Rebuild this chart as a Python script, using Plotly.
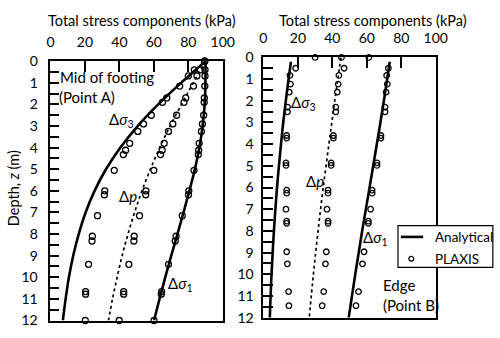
import plotly.graph_objects as go

# ---------------- data ----------------
# Mid of footing (Point A) - analytical
zA_an = [0, 0.25, 0.5, 1, 1.5, 2, 3, 4, 5, 6, 7, 8, 9, 10, 11, 12]
s1A_an = [90, 90, 90, 89.9, 89.8, 89.5, 88.3, 86.4, 83.8, 80.6, 77.2, 73.7, 70.1, 66.6, 63.3, 60.1]
s3A_an = [90, 86.4, 82.9, 75.8, 69.0, 62.5, 50.6, 40.5, 32.2, 25.6, 20.4, 16.4, 13.2, 10.7, 8.8, 7.2]
pA_an = [90, 88.2, 86.4, 82.9, 79.4, 76.0, 69.4, 63.4, 58.0, 53.1, 48.8, 45.0, 41.6, 38.7, 36.0, 33.7]

# Mid of footing (Point A) - PLAXIS
zA_px = [0, 0.4, 0.68, 1.15, 1.7, 1.9, 2.5, 2.9, 3.25, 3.8, 4.12, 4.32, 5.05, 6.0, 6.18, 7.15, 8.1, 8.32, 9.4, 10.66, 10.78, 12]
s3A_px = [89.5, 83.5, 80, 75, 67.5, 65, 58.5, 54, 50.7, 46, 43.6, 42.3, 37, 31.5, 31.3, 27.3, 24.3, 24.1, 22.1, 20.4, 20.4, 20.2]
pA_px = [89.5, 87, 85, 83, 78.5, 77.5, 73.2, 71, 68.5, 66, 64.8, 63.9, 60, 55.4, 55.3, 51.7, 48.6, 48.4, 45.5, 42.5, 42.5, 39.9]
s1A_px = [89.5, 89.7, 89.7, 89.6, 89.3, 89.2, 88.9, 88.2, 87.6, 86.3, 86, 85.8, 83.3, 80.3, 80.1, 76.5, 72.9, 72.4, 68.5, 64.5, 64.3, 60.1]

# Edge (Point B) - analytical
zB_an = [0.2, 1, 2, 3, 4, 6, 8, 10, 12]
s1B_an = [73.3, 71.8, 69.9, 67.9, 65.8, 61.6, 57.3, 53.3, 49.5]
s3B_an = [16.0, 14.6, 13.0, 11.5, 10.2, 7.9, 6.1, 4.7, 3.7]
zB_p_an = [0, 1, 2, 3, 4, 6, 8, 10, 12]
pB_an = [45, 43.2, 41.4, 39.7, 38.0, 34.7, 31.7, 29.0, 26.6]

# Edge (Point B) - PLAXIS
zB_px = [0, 0.5, 0.83, 1.23, 1.6, 2.29, 2.51, 3.6, 3.72, 4.86, 4.98, 6.12, 6.26, 7.0, 7.55, 7.65, 8.96, 9.52, 10.8, 11.45]
s3B_px = [30, 18.7, 15.4, 15.7, 15.0, 14.0, 14.0, 13.5, 13.5, 13.1, 13.1, 13.5, 13.5, 13.1, 13.5, 13.5, 13.5, 13.9, 14.6, 14.8]
pB_px = [45.3, 46.8, 43.8, 43.4, 42.9, 42.0, 42.0, 40.6, 40.6, 39.3, 39.3, 37.5, 37.5, 36.9, 37.5, 37.5, 36.5, 36.0, 35.0, 34.1]
s1B_px = [61.2, 72.5, 71.5, 71.9, 71.2, 70.6, 70.6, 68.2, 68.2, 65.9, 65.9, 63.1, 63.1, 62.2, 60.9, 60.9, 58.4, 57.5, 55.2, 53.7]

x_ticks = [0, 20, 40, 60, 80, 100]
y_ticks = list(range(0, 13))
legend_labels = ["Analytical", "PLAXIS"]

FONT = "Lato"
fig = go.Figure()

def line(x, y, xa, ya, dash="solid", width=2.6):
    fig.add_trace(go.Scatter(x=x, y=y, xaxis=xa, yaxis=ya, mode="lines",
                             line=dict(color="black", width=width, dash=dash, shape="spline"),
                             showlegend=False, cliponaxis=False))

def marks(x, y, xa, ya, size=6):
    fig.add_trace(go.Scatter(x=x, y=y, xaxis=xa, yaxis=ya, mode="markers",
                             marker=dict(symbol="circle-open", size=size, color="black",
                                         line=dict(width=1.3, color="black")),
                             showlegend=False, cliponaxis=False))

# Left panel
line(s1A_an, zA_an, "x", "y")
line(s3A_an, zA_an, "x", "y")
line(pA_an, zA_an, "x", "y", dash="dot", width=1.7)
marks(s3A_px, zA_px, "x", "y")
marks(pA_px, zA_px, "x", "y")
marks(s1A_px, zA_px, "x", "y")

# Right panel
line(s1B_an, zB_an, "x2", "y2")
line(s3B_an, zB_an, "x2", "y2")
line(pB_an, zB_p_an, "x2", "y2", dash="dot", width=1.7)
marks(s3B_px, zB_px, "x2", "y2", size=5.5)
marks(pB_px, zB_px, "x2", "y2", size=5.5)
marks(s1B_px, zB_px, "x2", "y2", size=5.5)

W, H = 500, 338

def xax(domain):
    return dict(domain=domain, range=[0, 100], side="top", tickvals=x_ticks,
                ticks="inside", ticklen=11, tickwidth=1.5, tickcolor="black",
                showline=True, linecolor="black", linewidth=1.8, mirror=True,
                showgrid=False, zeroline=False, ticklabelstandoff=7,
                tickfont=dict(family=FONT, size=14, color="black"))

def yax(domain, ticklen, standoff, anchor):
    return dict(domain=domain, range=[12, 0], tickvals=y_ticks, anchor=anchor,
                ticks="inside", ticklen=ticklen, tickwidth=1.5, tickcolor="black",
                minor=dict(ticks="inside", dtick=0.5, ticklen=ticklen, tickwidth=1.5, tickcolor="black"),
                showline=True, linecolor="black", linewidth=1.8, mirror=True,
                showgrid=False, zeroline=False, ticklabelstandoff=standoff,
                tickfont=dict(family=FONT, size=14, color="black"))

fig.update_layout(
    width=W, height=H, margin=dict(l=0, r=0, t=0, b=0),
    paper_bgcolor="white", plot_bgcolor="white", showlegend=False,
    xaxis=dict(**xax([48 / W, 226 / W]), anchor="y"),
    yaxis=yax([1 - 328 / H, 1 - 55 / H], 9, 8, "x"),
    xaxis2=dict(**xax([268 / W, 446 / W]), anchor="y2"),
    yaxis2=yax([1 - 325 / H, 1 - 51 / H], 10, 5, "x2"),
    font=dict(family=FONT, color="black"),
)

def ann(text, x, y, xref, yref, size=15, xanchor="center", textangle=0):
    fig.add_annotation(text=text, x=x, y=y, xref=xref, yref=yref, showarrow=False,
                       xanchor=xanchor, yanchor="middle", textangle=textangle,
                       font=dict(family=FONT, size=size, color="black"))

ann("Total stress components (kPa)", 143 / W, 1 - 12 / H, "paper", "paper", size=14.5)
ann("Total stress components (kPa)", 381 / W, 1 - 12 / H, "paper", "paper", size=14.5)
ann("Depth, <i>z</i> (m)", 10 / W, 1 - 189 / H, "paper", "paper", size=14.5, textangle=-90)

ann("Mid of footing", 4.5, 0.75, "x", "y", xanchor="left")
ann("(Point A)", 4, 1.65, "x", "y", xanchor="left")
ann("Δ<i>σ</i><sub>3</sub>", 41, 2.73, "x", "y")
ann("Δ<i>p</i>", 45, 6.24, "x", "y")
ann("Δ<i>σ</i><sub>1</sub>", 75.3, 10.3, "x", "y")

ann("Δ<i>σ</i><sub>3</sub>", 23, 2.1, "x2", "y2")
ann("Δ<i>p</i>", 29.8, 5.69, "x2", "y2")
ann("Δ<i>σ</i><sub>1</sub>", 65.2, 8.32, "x2", "y2")
ann("Edge", 68.5, 10.5, "x2", "y2", xanchor="left")
ann("(Point B)", 68, 11.4, "x2", "y2", xanchor="left")

# legend box (drawn by hand so it can run to the page edge, as in the reference)
def px(x):
    return x / W

def py(y):
    return 1 - y / H

fig.add_shape(type="rect", xref="paper", yref="paper", x0=px(407), x1=px(505), y0=py(272), y1=py(228),
              line=dict(color="black", width=1.2), fillcolor="white", layer="above")
fig.add_shape(type="line", xref="paper", yref="paper", x0=px(410), x1=px(433), y0=py(240), y1=py(240),
              line=dict(color="black", width=2.6), layer="above")
fig.add_shape(type="circle", xref="paper", yref="paper", x0=px(418.3), x1=px(423.3), y0=py(265.5), y1=py(260.5),
              line=dict(color="black", width=1.2), layer="above")
fig.add_annotation(text=legend_labels[0], x=px(443), y=py(240), xref="paper", yref="paper", showarrow=False,
                   xanchor="left", yanchor="middle", font=dict(family=FONT, size=13.5, color="black"))
fig.add_annotation(text=legend_labels[1], x=px(443), y=py(263), xref="paper", yref="paper", showarrow=False,
                   xanchor="left", yanchor="middle", font=dict(family=FONT, size=13.5, color="black"))

fig.write_html("out.html")
